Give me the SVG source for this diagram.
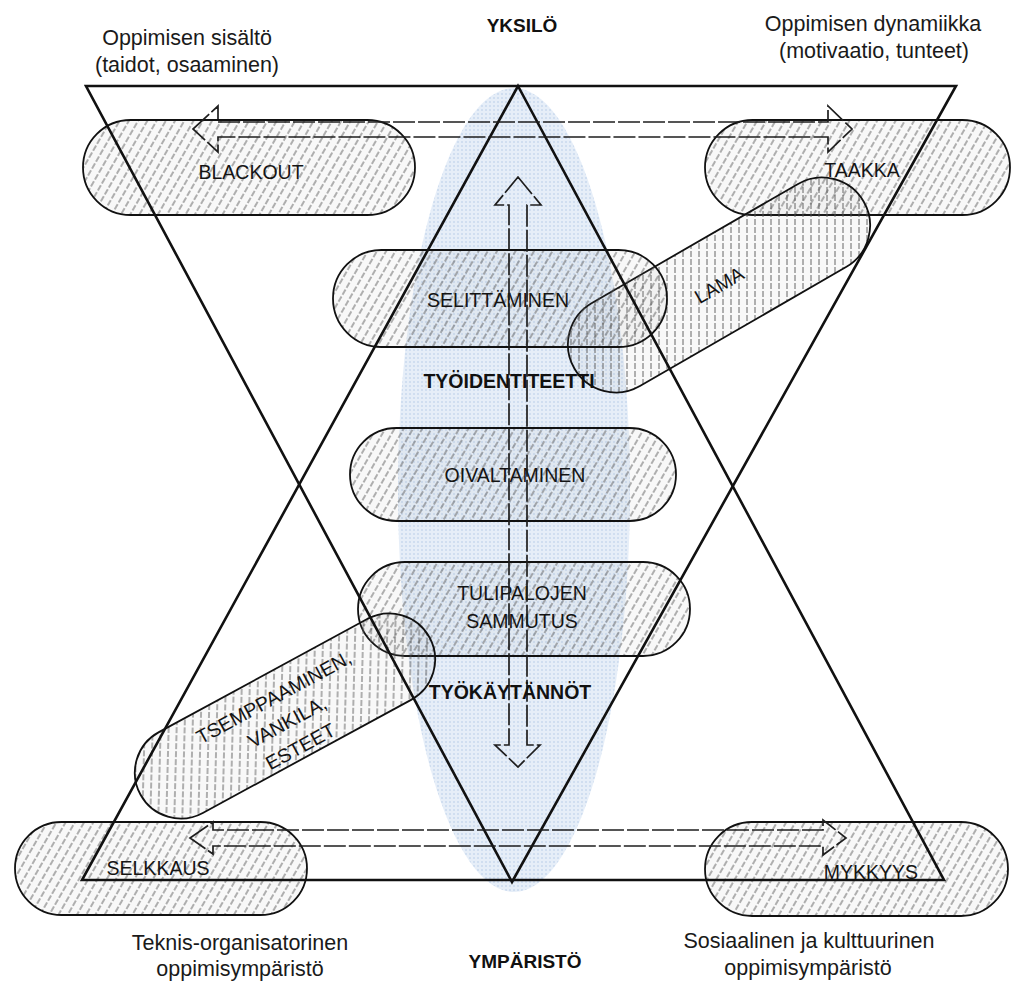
<svg xmlns="http://www.w3.org/2000/svg" width="1022" height="985" viewBox="0 0 1022 985">
<style>
.lbl{font-family:"Liberation Sans",Arial,sans-serif;font-size:21.5px;fill:#1a1a1a;text-anchor:middle}
.hd{font-family:"Liberation Sans",Arial,sans-serif;font-size:19px;font-weight:bold;fill:#111;text-anchor:middle}
.pt{font-family:"Liberation Sans",Arial,sans-serif;font-size:19.5px;fill:#141414;text-anchor:middle}
.bt{font-family:"Liberation Sans",Arial,sans-serif;font-size:19.5px;font-weight:bold;fill:#111;text-anchor:middle}
.pill{fill:url(#hatch);stroke:#111;stroke-width:1.8}
.tri{fill:none;stroke:#111;stroke-width:2.6;stroke-linejoin:miter}
.arr{fill:none;stroke:#1e1e1e;stroke-width:1.7;stroke-dasharray:22 3}
</style>
<defs>
<pattern id="hatch" width="8" height="8" patternUnits="userSpaceOnUse" patternTransform="rotate(30)">
<rect width="8" height="8" fill="#8a8a8a" fill-opacity="0.06"/>
<line x1="4" y1="0" x2="4" y2="8" stroke="#555" stroke-width="0.9" stroke-dasharray="4 2"/>
</pattern>
<pattern id="dots" width="4" height="4" patternUnits="userSpaceOnUse">
<rect width="4" height="4" fill="#e6eef8"/>
<circle cx="2" cy="2" r="1" fill="#c9d9ee"/>
</pattern>
</defs>
<rect width="1022" height="985" fill="#fff"/>
<g id="background-field">
<ellipse cx="514" cy="490" rx="116" ry="402" fill="url(#dots)"/>
</g>
<g id="node-blackout">
<rect class="pill" x="83" y="120" width="332" height="95" rx="47.5"/>
<text class="pt" x="251" y="179">BLACKOUT</text>
</g>
<g id="node-taakka">
<rect class="pill" x="705" y="120" width="305" height="95" rx="47.5"/>
<text class="pt" x="862" y="177">TAAKKA</text>
</g>
<g id="node-lama">
<g transform="translate(719,285) rotate(-30)">
<rect class="pill" x="-167" y="-48" width="334" height="96" rx="48"/>
<text class="pt" x="0" y="7">LAMA</text>
</g>
</g>
<g id="node-selittaminen">
<rect class="pill" x="333" y="250" width="334" height="97" rx="48.5"/>
<text class="pt" x="498" y="307">SELITTÄMINEN</text>
</g>
<g id="node-oivaltaminen">
<rect class="pill" x="350" y="428" width="326" height="93" rx="46.5"/>
<text class="pt" x="515" y="482">OIVALTAMINEN</text>
</g>
<g id="node-tulipalojen">
<rect class="pill" x="358" y="562" width="332" height="94" rx="47"/>
<text class="pt" x="522" y="600">TULIPALOJEN</text>
<text class="pt" x="522" y="628">SAMMUTUS</text>
</g>
<g id="node-tsemppaaminen">
<g transform="translate(285,716) rotate(-28.5)">
<rect class="pill" x="-164.5" y="-46" width="329" height="92" rx="46"/>
<text class="pt" x="-1" y="-15">TSEMPPAAMINEN,</text>
<text class="pt" x="-1" y="13">VANKILA,</text>
<text class="pt" x="-1" y="41">ESTEET</text>
</g>
</g>
<g id="node-selkkaus">
<rect class="pill" x="15" y="822" width="292" height="93" rx="46.5"/>
<text class="pt" x="158" y="875">SELKKAUS</text>
</g>
<g id="node-mykkyys">
<rect class="pill" x="705" y="822" width="303" height="94" rx="47"/>
<text class="pt" x="871" y="879">MYKKYYS</text>
</g>
<g id="frame-triangles">
<polygon class="tri" points="86,86 956,86 512,882"/>
<polygon class="tri" points="518,86 944,880 82,880"/>
</g>
<g id="connectors">
<polygon class="arr" points="193,129 218,106 218,122 828,122 828,106 852,129 828,152 828,137 218,137 218,152"/>
<polygon class="arr" points="190,838 213,822 213,830 823,830 823,820 846,838 823,855 823,846 213,846 213,854"/>
<polygon class="arr" points="518,177 541,205 527,205 527,745 540,745 518,767 495,745 509,745 509,205 495,205"/>
</g>
<g id="labels">
<text class="bt" x="509" y="388">TYÖIDENTITEETTI</text>
<text class="bt" x="510" y="699">TYÖKÄYTÄNNÖT</text>
<text class="hd" x="522" y="32">YKSILÖ</text>
<text class="hd" x="525" y="968">YMPÄRISTÖ</text>
<text class="lbl" x="187" y="45">Oppimisen sisältö</text>
<text class="lbl" x="187" y="72">(taidot, osaaminen)</text>
<text class="lbl" x="873" y="31">Oppimisen dynamiikka</text>
<text class="lbl" x="874" y="58">(motivaatio, tunteet)</text>
<text class="lbl" x="240" y="950">Teknis-organisatorinen</text>
<text class="lbl" x="240" y="976">oppimisympäristö</text>
<text class="lbl" x="809" y="948">Sosiaalinen ja kulttuurinen</text>
<text class="lbl" x="808" y="975">oppimisympäristö</text>
</g>
</svg>
